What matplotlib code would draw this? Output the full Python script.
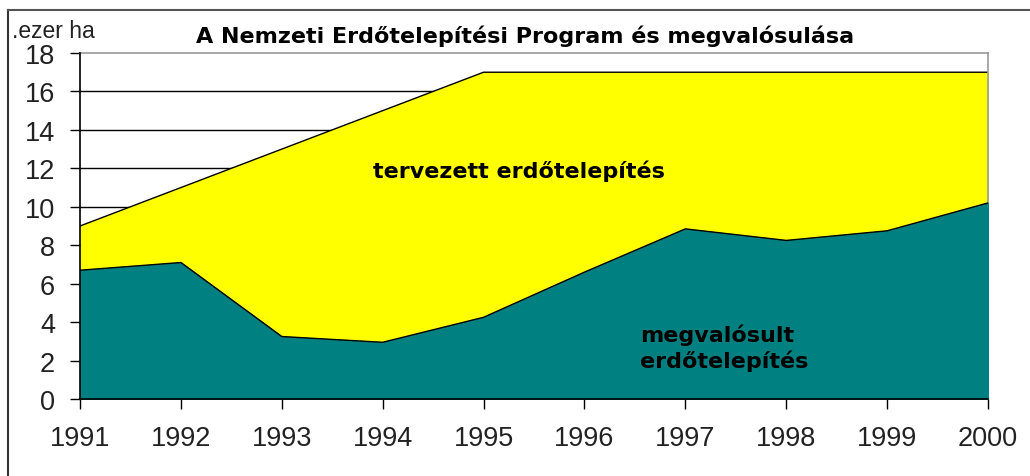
import matplotlib
matplotlib.use('Agg')
import matplotlib.pyplot as plt
from matplotlib.lines import Line2D

# adatok (ezer ha)
years = [1991, 1992, 1993, 1994, 1995, 1996, 1997, 1998, 1999, 2000]
tervezett = [9, 11, 13, 15, 17, 17, 17, 17, 17, 17]
megvalosult = [6.7, 7.1, 3.25, 2.95, 4.25, 6.6, 8.85, 8.25, 8.75, 10.2]
y_ticks = list(range(0, 19, 2))

plt.rcParams['font.family'] = ['Liberation Sans', 'DejaVu Sans']
bold_font = ['DejaVu Sans']

fig = plt.figure(figsize=(10.3, 4.77), dpi=100)
ax = fig.add_axes([80 / 1030, 1 - 400 / 477, 908 / 1030, 346 / 477])

# rácsvonalak a kitöltés mögött
for v in y_ticks[1:-1]:
    ax.axhline(v, color='black', lw=1.0, zorder=0)

ax.fill_between(years, 0, tervezett, color='#FFFF00', zorder=1)
ax.plot(years, tervezett, color='black', lw=1.0, zorder=2)
ax.fill_between(years, 0, megvalosult, color='#008080', zorder=3)
ax.plot(years, megvalosult, color='black', lw=1.0, zorder=4)

ax.set_xlim(years[0], years[-1])
ax.set_ylim(0, 18)
ax.set_xticks(years)
ax.set_yticks(y_ticks)
ax.tick_params(axis='both', direction='out', length=7, width=1, labelsize=19.5,
               colors='black', labelcolor='#222222')
ax.tick_params(axis='x', pad=12)
ax.tick_params(axis='y', pad=11)

for s in ['left', 'bottom']:
    ax.spines[s].set_color('black')
    ax.spines[s].set_linewidth(1.2)
for s in ['top', 'right']:
    ax.spines[s].set_color('#999999')
    ax.spines[s].set_linewidth(1.2)
ax.spines['left'].set_zorder(5)
ax.spines['bottom'].set_zorder(5)

ax.text(1995.35, 11.9, 'tervezett erdőtelepítés', fontsize=16, fontweight='bold',
        family=bold_font, ha='center', va='center', zorder=6)
ax.text(1996.55, 2.7, 'megvalósult\nerdőtelepítés', fontsize=16, fontweight='bold',
        family=bold_font, ha='left', va='center', linespacing=1.25, zorder=6)

fig.text(525 / 1030, 1 - 36 / 477, 'A Nemzeti Erdőtelepítési Program és megvalósulása',
         fontsize=16, fontweight='bold', family=bold_font, ha='center', va='center')
fig.text(12 / 1030, 1 - 31 / 477, '.ezer ha', fontsize=16.5, ha='left', va='center',
         color='#222222')

# keret
fig.add_artist(Line2D([8 / 1030, 8 / 1030], [0, 1 - 11 / 477], color='#333333', lw=1.5))
fig.add_artist(Line2D([8 / 1030, 1], [1 - 11 / 477, 1 - 11 / 477], color='#555555', lw=1.5))

fig.savefig('out.png', dpi=100)
